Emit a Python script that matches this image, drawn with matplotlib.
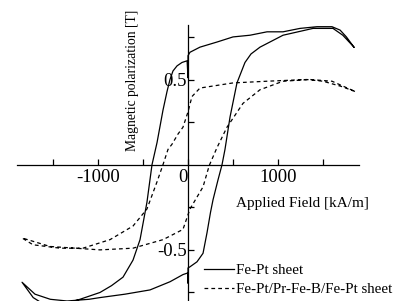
import matplotlib
matplotlib.use('Agg')
import matplotlib.pyplot as plt

plt.rcParams['font.family'] = ['Liberation Serif', 'DejaVu Serif']

# Fe-Pt sheet, one closed loop: descending branch then ascending branch
fept_down_H = [1844, 1760, 1690, 1600, 1433, 1244, 1056, 878, 689, 500, 322, 133, 22,
               0, 0, -10, -67, -122, -167, -200, -233, -278, -344, -400, -456, -533,
               -611, -722, -850, -978, -1200, -1400, -1600, -1720, -1844]
fept_down_J = [0.69, 0.75, 0.79, 0.81, 0.81, 0.80, 0.78, 0.78, 0.76, 0.75, 0.72, 0.69, 0.66,
               0.64, 0.51, 0.61, 0.60, 0.58, 0.55, 0.50, 0.43, 0.32, 0.13, 0.0, -0.22, -0.44,
               -0.56, -0.66, -0.71, -0.75, -0.79, -0.82, -0.82, -0.78, -0.69]
fept_up_H = [-1844, -1700, -1530, -1344, -1100, -978, -700, -422, -200, -56,
             0, 0, 0, 20, 100, 167, 211, 250, 278, 333, 378, 411, 467, 544, 633, 700,
             800, 1056, 1389, 1611, 1720, 1844]
fept_up_J = [-0.69, -0.76, -0.79, -0.80, -0.79, -0.78, -0.76, -0.735, -0.687, -0.645,
             -0.635, -0.695, -0.606, -0.60, -0.57, -0.52, -0.40, -0.28, -0.206, -0.09, 0.0,
             0.09, 0.28, 0.48, 0.60, 0.65, 0.69, 0.76, 0.80, 0.80, 0.76, 0.69]

# Fe-Pt/Pr-Fe-B/Fe-Pt sheet
tri_down_H = [1855, 1700, 1500, 1320, 878, 500, 133, 44, 0, -56, -111, -178, -222, -278,
              -344, -456, -611, -867, -1167, -1422, -1722, -1844]
tri_down_J = [0.43, 0.46, 0.49, 0.50, 0.49, 0.48, 0.45, 0.40, 0.31, 0.22, 0.18, 0.12, 0.09,
              0.0, -0.10, -0.26, -0.36, -0.44, -0.49, -0.49, -0.47, -0.43]
tri_up_H = [-1844, -1533, -978, -611, -278, -56, 22, 167, 222, 240, 322, 433, 611, 800,
            1056, 1356, 1600, 1855]
tri_up_J = [-0.43, -0.48, -0.50, -0.49, -0.44, -0.38, -0.26, -0.13, -0.03, 0.0, 0.10, 0.22,
            0.36, 0.44, 0.49, 0.50, 0.49, 0.43]

xticks = [-1000, 0, 1000]
xticklabels = ['-1000', '0', '1000']
yticks = [-0.5, 0.5]
yticklabels = ['-0.5', '0.5']

fig = plt.figure(figsize=(4.03, 3.01), dpi=100)
ax = fig.add_axes([17 / 403, -3.4 / 301, 342 / 403, 279.4 / 301])

ax.plot(fept_down_H + fept_up_H, fept_down_J + fept_up_J, color='black', lw=0.9,
        label='Fe-Pt sheet')
ax.plot(tri_down_H + tri_up_H, tri_down_J + tri_up_J, color='black', lw=0.9,
        linestyle=(0, (3, 2.5)), label='Fe-Pt/Pr-Fe-B/Fe-Pt sheet')

ax.set_xlim(-1900, 1900)
ax.set_ylim(-0.82, 0.82)

for s in ['top', 'right']:
    ax.spines[s].set_visible(False)
ax.spines['left'].set_position(('data', 0))
ax.spines['bottom'].set_position(('data', 0))
ax.spines['left'].set_linewidth(0.9)
ax.spines['bottom'].set_linewidth(0.9)

ax.set_xticks(xticks)
ax.set_xticklabels(xticklabels)
ax.set_xticks([-1500, -500, 500, 1500], minor=True)
ax.set_yticks(yticks)
ax.set_yticklabels(yticklabels)
ax.set_yticks([-0.75, -0.25, 0.25, 0.75], minor=True)
ax.tick_params(which='both', direction='in', length=4, width=0.9, labelsize=13.5)
ax.tick_params(axis='x', pad=3)
ax.tick_params(axis='y', pad=1)
ax.get_xticklabels()[1].set_ha('right')

ax.set_xlabel('Applied Field [kA/m]', fontsize=11)
ax.xaxis.set_label_coords(0.835, 0.36)
ax.xaxis.label.set_va('center')
ax.set_ylabel('Magnetic polarization [T]', fontsize=9.8)
ax.yaxis.label.set_rotation_mode('default')
ax.yaxis.label.set_va('center')
ax.yaxis.label.set_ha('center')
ax.yaxis.set_label_coords(0.339, 0.803)

ax.legend(loc='upper left', bbox_to_anchor=(204 / 403, 1 - 264 / 301),
          bbox_transform=fig.transFigure, frameon=False, fontsize=10.8,
          handlelength=2.0, handletextpad=0.15, borderpad=0, borderaxespad=0,
          labelspacing=0.35)

plt.savefig('out.png', dpi=100)
